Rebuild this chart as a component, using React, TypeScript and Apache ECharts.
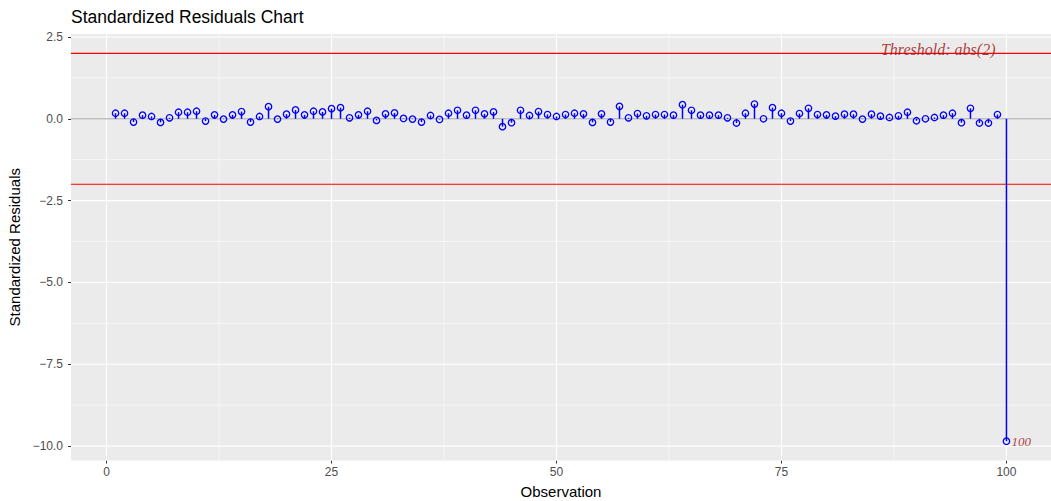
import React, { useEffect, useRef } from "react";
import * as echarts from "echarts";

// Standardized residuals for observations 1..100
const residuals: number[] = [
  0.17, 0.17, -0.1, 0.11, 0.07, -0.11, 0.03, 0.2, 0.2, 0.23,
  -0.07, 0.12, -0.01, 0.12, 0.22, -0.1, 0.07, 0.37, -0.01, 0.14,
  0.27, 0.12, 0.23, 0.21, 0.31, 0.34, 0.03, 0.12, 0.23, -0.05,
  0.15, 0.18, 0.01, -0.01, -0.1, 0.1, -0.02, 0.17, 0.26, 0.11,
  0.26, 0.15, 0.21, -0.24, -0.12, 0.26, 0.1, 0.22, 0.13, 0.07,
  0.13, 0.17, 0.15, -0.11, 0.15, -0.1, 0.38, 0.03, 0.16, 0.09,
  0.13, 0.13, 0.11, 0.43, 0.26, 0.11, 0.11, 0.11, 0.03, -0.13,
  0.17, 0.45, 0.0, 0.34, 0.17, -0.07, 0.16, 0.32, 0.13, 0.12,
  0.08, 0.14, 0.14, -0.01, 0.14, 0.08, 0.04, 0.09, 0.2, -0.06,
  0.0, 0.04, 0.11, 0.17, -0.12, 0.32, -0.13, -0.13, 0.13, -9.85,
];
const observations: number[] = residuals.map((_, i) => i + 1);

const threshold = 2;
const flaggedObs = [100];

const xTicks = [0, 25, 50, 75, 100];
const xMinor = [12.5, 37.5, 62.5, 87.5];
const yTicks = [-10, -7.5, -5, -2.5, 0, 2.5];
const yMinor = [-8.75, -6.25, -3.75, -1.25, 1.25];

const X_MIN = -3.95;
const X_MAX = 104.95;
const Y_MIN = -10.44;
const Y_MAX = 2.59;

const fmtY = (v: number) => {
  const s = Math.abs(v).toFixed(1);
  return v < 0 ? "\u2212" + s : s;
};

// full-width horizontal lines at the given y values
const hLines = (values: number[], color: string, width: number, z: number) => ({
  type: "custom",
  z,
  silent: true,
  data: values.map((v) => [0, v]),
  renderItem: (params: any, api: any) => {
    const cs = params.coordSys;
    const y = api.coord([0, api.value(1)])[1];
    return {
      type: "line",
      shape: { x1: cs.x, y1: y, x2: cs.x + cs.width, y2: y },
      style: { stroke: color, lineWidth: width },
    };
  },
});

// full-height vertical lines at the given x values
const vLines = (values: number[], color: string, width: number, z: number) => ({
  type: "custom",
  z,
  silent: true,
  data: values.map((v) => [v, 0]),
  renderItem: (params: any, api: any) => {
    const cs = params.coordSys;
    const x = api.coord([api.value(0), 0])[0];
    return {
      type: "line",
      shape: { x1: x, y1: cs.y, x2: x, y2: cs.y + cs.height },
      style: { stroke: color, lineWidth: width },
    };
  },
});

export default function App() {
  const ref = useRef<HTMLDivElement>(null);

  useEffect(() => {
    if (!ref.current) return;
    const chart = echarts.init(ref.current, null, { renderer: "svg" });

    const points = observations.map((o, i) => [o, residuals[i]]);
    const flagged = flaggedObs.map((o) => [o, residuals[o - 1]]);

    chart.setOption({
      animation: false,
      backgroundColor: "#FFFFFF",
      title: {
        text: "Standardized Residuals Chart",
        left: 66,
        top: 3,
        textStyle: {
          fontFamily: "Liberation Sans, Arial, sans-serif",
          fontSize: 17.5,
          fontWeight: "normal",
          color: "#000000",
        },
      },
      grid: {
        left: 71,
        right: 0,
        top: 34,
        bottom: 40.5,
        outerBoundsMode: "none",
        containLabel: false,
        show: true,
        backgroundColor: "#EBEBEB",
        borderWidth: 0,
      },
      xAxis: {
        type: "value",
        min: X_MIN,
        max: X_MAX,
        name: "Observation",
        nameLocation: "middle",
        nameGap: 23,
        nameTextStyle: {
          fontFamily: "Liberation Sans, Arial, sans-serif",
          fontSize: 15,
          color: "#000000",
          verticalAlign: "top",
        },
        axisLine: { show: false, onZero: false },
        axisTick: {
          show: true,
          customValues: xTicks,
          length: 3,
          lineStyle: { color: "#333333", width: 1 },
        },
        axisLabel: {
          customValues: xTicks,
          margin: 5,
          fontFamily: "Liberation Sans, Arial, sans-serif",
          fontSize: 12,
          color: "#4D4D4D",
        },
        splitLine: { show: false },
      },
      yAxis: {
        type: "value",
        min: Y_MIN,
        max: Y_MAX,
        name: "Standardized Residuals",
        nameLocation: "middle",
        nameGap: 47,
        nameTextStyle: {
          fontFamily: "Liberation Sans, Arial, sans-serif",
          fontSize: 15,
          color: "#000000",
        },
        axisLine: { show: false, onZero: false },
        axisTick: {
          show: true,
          customValues: yTicks,
          length: 3,
          lineStyle: { color: "#333333", width: 1 },
        },
        axisLabel: {
          customValues: yTicks,
          margin: 8,
          formatter: (v: number) => fmtY(v),
          fontFamily: "Liberation Sans, Arial, sans-serif",
          fontSize: 12,
          color: "#4D4D4D",
        },
        splitLine: { show: false },
      },
      series: [
        // panel grid: minor then major
        vLines(xMinor, "#FFFFFF", 0.55, 1),
        hLines(yMinor, "#FFFFFF", 0.55, 1),
        vLines(xTicks, "#FFFFFF", 1.1, 1),
        hLines(yTicks, "#FFFFFF", 1.1, 1),
        // zero line
        hLines([0], "#BEBEBE", 1.6, 2),
        // thresholds
        hLines([threshold, -threshold], "#FF0000", 1.2, 2),
        {
          // stems and hollow markers
          type: "custom",
          z: 3,
          data: points,
          renderItem: (params: any, api: any) => {
            const x = api.value(0);
            const y = api.value(1);
            const p0 = api.coord([x, 0]);
            const p1 = api.coord([x, y]);
            return {
              type: "group",
              children: [
                {
                  type: "line",
                  shape: { x1: p0[0], y1: p0[1], x2: p1[0], y2: p1[1] },
                  style: { stroke: "#0000FF", lineWidth: 1.5 },
                },
                {
                  type: "circle",
                  shape: { cx: p1[0], cy: p1[1], r: 3.2 },
                  style: { fill: "none", stroke: "#0000FF", lineWidth: 1.3 },
                },
              ],
            };
          },
        },
        {
          // threshold caption
          type: "scatter",
          z: 4,
          symbolSize: 0,
          silent: true,
          data: [[99, threshold]],
          label: {
            show: true,
            position: "left",
            distance: 2,
            offset: [0, -4],
            formatter: () => `Threshold: abs(${threshold})`,
            fontFamily: "Liberation Serif, Times New Roman, serif",
            fontStyle: "italic",
            fontSize: 16,
            color: "#9B0D0D",
          },
        },
        {
          // labels for flagged observations
          type: "scatter",
          z: 4,
          symbolSize: 0,
          silent: true,
          data: flagged,
          label: {
            show: true,
            position: "right",
            distance: 5,
            formatter: (p: any) => String(p.value[0]),
            fontFamily: "Liberation Serif, Times New Roman, serif",
            fontStyle: "italic",
            fontSize: 13,
            color: "#9B0D0D",
          },
        },
      ],
    });

    return () => chart.dispose();
  }, []);

  return <div ref={ref} style={{ width: 1051, height: 501, position: "absolute", left: 0, top: 0 }} />;
}
